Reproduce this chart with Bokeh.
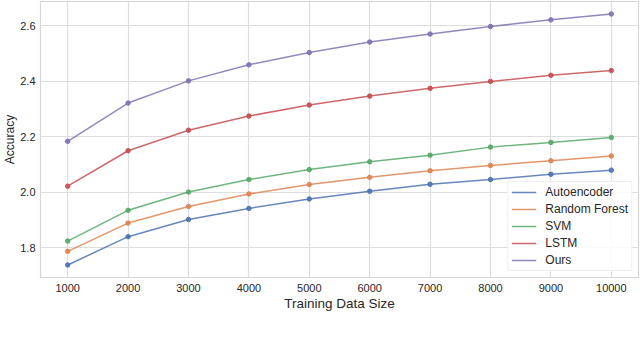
from bokeh.plotting import figure
from bokeh.models import Label, FixedTicker, Legend, LegendItem, PrintfTickFormatter
from bokeh.embed import file_html
from bokeh.resources import INLINE

# ---- data ----
sizes = [1000, 2000, 3000, 4000, 5000, 6000, 7000, 8000, 9000, 10000]
autoencoder = [1.738, 1.840, 1.902, 1.942, 1.976, 2.004, 2.029, 2.046, 2.065, 2.080]
random_forest = [1.787, 1.889, 1.949, 1.994, 2.028, 2.054, 2.078, 2.097, 2.114, 2.131]
svm = [1.824, 1.935, 2.001, 2.046, 2.082, 2.110, 2.134, 2.163, 2.180, 2.198]
lstm = [2.022, 2.150, 2.224, 2.275, 2.315, 2.347, 2.375, 2.400, 2.422, 2.439]
ours = [2.184, 2.322, 2.402, 2.460, 2.504, 2.542, 2.571, 2.598, 2.622, 2.643]
series_names = ["Autoencoder", "Random Forest", "SVM", "LSTM", "Ours"]
series_values = [autoencoder, random_forest, svm, lstm, ours]
colors = ["#4C72B0", "#DD8452", "#55A868", "#C44E52", "#8172B3"]
x_ticks = [1000, 2000, 3000, 4000, 5000, 6000, 7000, 8000, 9000, 10000]
y_ticks = [1.8, 2.0, 2.2, 2.4, 2.6]
x_label = "Training Data Size"
y_label = "Accuracy"
caption = "Fig. 1: Comparison of Accuracy for Different Methods"

# ranges with 5% padding
xmin, xmax = min(sizes), max(sizes)
allv = [v for s in series_values for v in s]
ymin, ymax = min(allv), max(allv)
xp = (xmax - xmin) * 0.05
yp = (ymax - ymin) * 0.05

p = figure(width=640, height=341, output_backend="svg", toolbar_location=None,
           x_range=(xmin - xp, xmax + xp), y_range=(ymin - yp, ymax + yp),
           min_border_left=40, min_border_right=2, min_border_top=1, min_border_bottom=64)
p.margin = (0, 0, 0, 0)

FONT = "Liberation Sans"
p.background_fill_color = "white"
p.border_fill_color = "white"
p.outline_line_color = "#D5D5D5"
p.outline_line_width = 1.2

for ax in (p.xaxis[0], p.yaxis[0]):
    ax.axis_line_color = None
    ax.major_tick_line_color = None
    ax.minor_tick_line_color = None
    ax.major_tick_out = 0
    ax.major_tick_in = 0
    ax.minor_tick_out = 0
    ax.major_label_text_font = FONT
    ax.major_label_text_font_size = "11px"
    ax.major_label_text_color = "#262626"
    ax.axis_label_text_font = FONT
    ax.axis_label_text_font_style = "normal"
    ax.axis_label_text_color = "#262626"

p.xaxis[0].axis_label_text_font_size = "13.5px"
p.yaxis[0].axis_label_text_font_size = "12px"
p.xaxis[0].ticker = FixedTicker(ticks=x_ticks)
p.yaxis[0].ticker = FixedTicker(ticks=y_ticks)
p.yaxis[0].formatter = PrintfTickFormatter(format="%.1f")
p.xaxis[0].axis_label = x_label
p.yaxis[0].axis_label = y_label
p.xaxis[0].major_label_standoff = 6
p.yaxis[0].major_label_standoff = 5
p.xaxis[0].axis_label_standoff = 1
p.yaxis[0].axis_label_standoff = 0

for g in (p.xgrid[0], p.ygrid[0]):
    g.grid_line_color = "#DEDEDE"
    g.grid_line_width = 1.2

items = []
for name, vals, c in zip(series_names, series_values, colors):
    r = p.line(sizes, vals, line_color=c, line_width=1.5, line_alpha=0.85)
    p.scatter(sizes, vals, size=4.5, fill_color=c, line_color=c, fill_alpha=0.9, line_alpha=0.9)
    items.append(LegendItem(label=name, renderers=[r]))

legend = Legend(items=items, location="bottom_right")
legend.label_text_font = FONT
legend.label_text_font_size = "12px"
legend.label_text_color = "#262626"
legend.glyph_width = 25
legend.glyph_height = 14
legend.label_height = 14
legend.spacing = 3
legend.padding = 3
legend.label_standoff = 9
legend.margin = 6
legend.border_line_color = "#DDDDDD"
legend.border_line_width = 1
legend.background_fill_color = "white"
legend.background_fill_alpha = 0.85
p.add_layout(legend, "center")

cap = Label(x=280, y=-76, x_units="screen", y_units="screen", text=caption,
            text_align="center", text_baseline="alphabetic",
            text_font="Liberation Serif", text_font_style="bold",
            text_font_size="24px", text_color="#222222")
p.add_layout(cap)

open("out.html", "w").write(file_html(p, INLINE))
